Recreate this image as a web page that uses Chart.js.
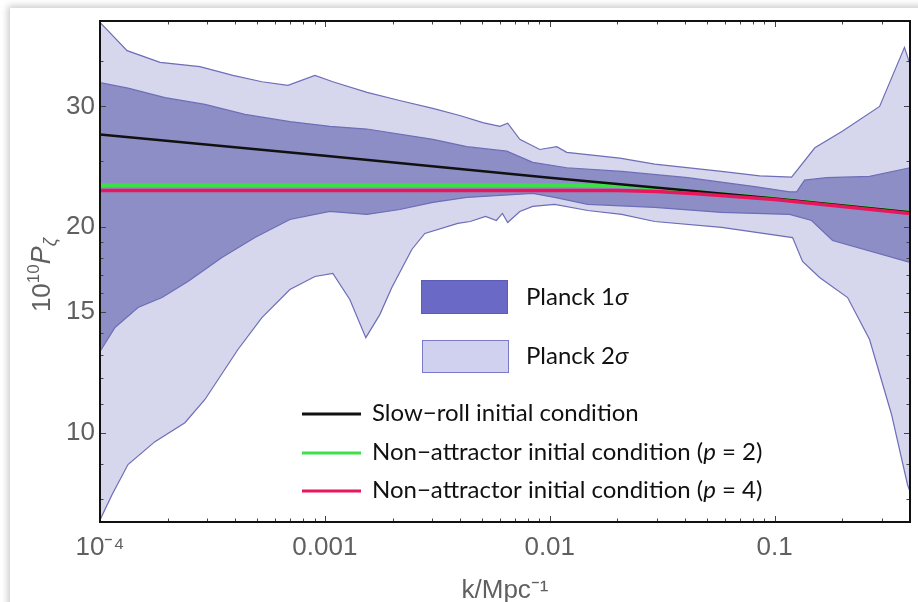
<!DOCTYPE html>
<html>
<head>
<meta charset="utf-8">
<script src="https://cdn.jsdelivr.net/npm/chart.js@4.4.1/dist/chart.umd.min.js"></script>
<style>
  html, body { margin: 0; padding: 0; background: #fff; overflow: hidden; }
  #card { position: absolute; left: 10px; top: 8px; width: 940px; height: 640px; background: #fff;
          box-shadow: -2px -2px 7px rgba(0, 0, 0, 0.22); }
  #wrap { position: absolute; left: 0; top: 0; width: 918px; height: 602px; }
</style>
</head>
<body>
<div id="card"></div>
<div id="wrap"><canvas id="chart"></canvas></div>
<script>
'use strict';

// k in Mpc^-1, values are 10^10 P_zeta
let sigma2UpperK = [1.0e-4, 1.32e-4, 1.85e-4, 2.78e-4, 3.9e-4, 5.25e-4, 6.85e-4, 9.03e-4, 1.085e-3, 1.54e-3,
  2.15e-3, 3.02e-3, 3.98e-3, 5.04e-3, 6.0e-3, 6.5e-3, 7.36e-3, 9.03e-3, 1.074e-2, 1.19e-2,
  2.05e-2, 2.93e-2, 5.81e-2, 8.58e-2, 0.119, 0.151, 0.2, 0.293, 0.378, 0.4];
let sigma2Upper = [39.8, 36.2, 34.8, 34.3, 33.3, 32.6, 32.2, 33.3, 32.6, 31.45,
  30.6, 29.8, 29.1, 28.4, 28.05, 28.35, 26.85, 25.95, 26.2, 25.7,
  25.2, 24.7, 24.1, 23.75, 23.65, 26.1, 27.6, 30.0, 36.6, 34.6];

let sigma2LowerK = [1.0e-4, 1.131e-4, 1.332e-4, 1.755e-4, 2.386e-4, 2.929e-4, 4.106e-4, 5.248e-4, 6.99e-4, 9.03e-4,
  1.085e-3, 1.291e-3, 1.521e-3, 1.755e-3, 1.985e-3, 2.436e-3, 2.783e-3, 3.9e-3, 4.43e-3, 5.18e-3,
  5.79e-3, 6.16e-3, 6.5e-3, 7.36e-3, 8.4e-3, 1.052e-2, 1.476e-2, 2.089e-2, 2.929e-2, 5.81e-2,
  0.1202, 0.1331, 0.1585, 0.2111, 0.2644, 0.3311, 0.39, 0.4];
let sigma2Lower = [7.45, 8.11, 8.98, 9.70, 10.34, 11.18, 13.23, 14.73, 16.19, 16.92,
  17.09, 15.66, 13.77, 14.88, 16.30, 18.53, 19.56, 20.23, 20.36, 20.71,
  20.43, 20.92, 20.29, 21.06, 21.42, 21.57, 21.13, 20.85, 20.36, 19.96,
  19.29, 17.80, 16.86, 15.76, 13.68, 10.63, 8.39, 8.2];

let sigma1UpperK = [1.0e-4, 1.332e-4, 1.945e-4, 2.929e-4, 4.41e-4, 6.99e-4, 1.052e-3, 1.537e-3, 3.02e-3, 4.276e-3,
  6.44e-3, 8.4e-3, 1.19e-2, 2.089e-2, 4.106e-2, 8.15e-2, 0.1166, 0.1253, 0.1359, 0.1703, 0.2644, 0.4];
let sigma1Upper = [32.5, 31.9, 30.9, 30.2, 29.2, 28.5, 28.05, 27.8, 26.85, 26.2,
  25.8, 24.85, 24.4, 24.1, 23.6, 22.9, 22.5, 22.5, 23.4, 23.6, 23.7, 24.4];

let sigma1LowerK = [1.0e-4, 1.166e-4, 1.476e-4, 1.886e-4, 2.461e-4, 3.485e-4, 4.886e-4, 6.99e-4, 1.052e-3, 1.537e-3,
  2.154e-3, 3.02e-3, 4.276e-3, 5.995e-3, 8.4e-3, 1.052e-2, 1.476e-2, 2.929e-2, 5.81e-2, 0.1166,
  0.146, 0.181, 0.4];
let sigma1Lower = [13.14, 14.25, 15.24, 15.76, 16.64, 18.04, 19.29, 20.5, 21.06, 20.85,
  21.2, 21.71, 22.08, 22.23, 22.38, 22.08, 21.57, 21.35, 20.99, 20.85,
  20.43, 19.10, 17.74];

let slowRollK = [1e-4, 1e-3, 1e-2, 0.1, 0.4];
let slowRoll = [27.3, 25.4, 23.6, 22.0, 21.0];

let p2K = [1e-4, 0.012, 0.018, 0.025, 0.1, 0.4];
let p2 = [23.0, 23.0, 22.97, 22.88, 22.0, 21.0];

let p4K = [1e-4, 0.02, 0.03, 0.045, 0.1, 0.4];
let p4 = [22.6, 22.6, 22.52, 22.35, 21.93, 20.92];

let xMajor = [1e-4, 1e-3, 1e-2, 1e-1];
let xTickLabels = ['10⁻⁴', '0.001', '0.01', '0.1'];
let yMajor = [10, 15, 20, 30];
let yTickLabels = ['10', '15', '20', '30'];
let yMinor = [8, 9, 11, 12, 13, 14, 16, 17, 18, 19, 25, 35, 40];
let xMinor = [];
for (let d = 1e-4; d < 0.4; d *= 10) {
  for (let m = 2; m <= 9; m++) {
    if (m * d <= 0.4) xMinor.push(m * d);
  }
}

let darkFill = '#8e8ec6';
let lightFill = '#d6d6ec';
let bandLine = '#6d6db8';
let gray = '#606060';

function pts(ks, vs) {
  return ks.map((k, i) => ({x: k, y: vs[i]}));
}

let frameTicks = {
  id: 'frameTicks',
  afterDatasetsDraw(chart) {
    let ctx = chart.ctx;
    let a = chart.chartArea;
    let x = chart.scales.x;
    let y = chart.scales.y;
    ctx.save();
    ctx.strokeStyle = '#444';
    ctx.lineWidth = 1;
    ctx.beginPath();
    let xt = (v, len) => {
      let px = Math.round(x.getPixelForValue(v)) + 0.5;
      ctx.moveTo(px, a.bottom); ctx.lineTo(px, a.bottom - len);
      ctx.moveTo(px, a.top); ctx.lineTo(px, a.top + len);
    };
    let yt = (v, len) => {
      let py = Math.round(y.getPixelForValue(v)) + 0.5;
      ctx.moveTo(a.left, py); ctx.lineTo(a.left + len, py);
      ctx.moveTo(a.right, py); ctx.lineTo(a.right - len, py);
    };
    xMajor.forEach(v => xt(v, 6));
    xMinor.forEach(v => xt(v, 3.5));
    yMajor.forEach(v => yt(v, 6));
    yMinor.forEach(v => yt(v, 3.5));
    ctx.stroke();
    ctx.strokeStyle = '#111';
    ctx.lineWidth = 2;
    ctx.strokeRect(a.left, a.top, a.right - a.left, a.bottom - a.top);
    ctx.restore();
  }
};

// draws a row of text pieces: [text, font, dy]
function drawPieces(ctx, pieces, x0, y0) {
  let x = x0;
  pieces.forEach(p => {
    ctx.font = p[1];
    ctx.fillText(p[0], x, y0 + (p[2] || 0));
    x += ctx.measureText(p[0]).width;
  });
}

let legendFont = '24px Lato';
let legendItalic = 'italic 24px Lato';

let insideLegend = {
  id: 'insideLegend',
  afterDraw(chart) {
    let ctx = chart.ctx;
    let ds = chart.data.datasets;
    ctx.save();
    ctx.textBaseline = 'middle';
    ctx.fillStyle = '#6a6ac6';
    ctx.strokeStyle = '#5c5cb8';
    ctx.lineWidth = 1;
    ctx.fillRect(421, 280, 86, 33);
    ctx.strokeRect(421.5, 280.5, 86, 33);
    ctx.fillStyle = '#d0d0ef';
    ctx.strokeStyle = '#7a7ac8';
    ctx.fillRect(422, 340, 86, 32);
    ctx.strokeRect(422.5, 340.5, 86, 32);

    ctx.fillStyle = '#111';
    drawPieces(ctx, [['Planck 1', legendFont], ['σ', legendItalic]], 526, 297);
    drawPieces(ctx, [['Planck 2', legendFont], ['σ', legendItalic]], 526, 356);

    let rows = [
      [ds[4], [['Slow−roll initial condition', legendFont]], 413],
      [ds[5], [['Non−attractor initial condition (', legendFont], ['p', legendItalic], [' = 2)', legendFont]], 452],
      [ds[6], [['Non−attractor initial condition (', legendFont], ['p', legendItalic], [' = 4)', legendFont]], 490]
    ];
    rows.forEach(r => {
      ctx.strokeStyle = r[0].borderColor;
      ctx.lineWidth = 3;
      ctx.beginPath();
      ctx.moveTo(302, r[2] + 1);
      ctx.lineTo(361, r[2] + 1);
      ctx.stroke();
      ctx.fillStyle = '#111';
      drawPieces(ctx, r[1], 372, r[2]);
    });

    // y axis title 10^10 P_zeta
    ctx.translate(50, 275);
    ctx.rotate(-Math.PI / 2);
    ctx.fillStyle = gray;
    ctx.textBaseline = 'alphabetic';
    let title = [['10', '26px "Liberation Sans"', 0], ['10', '17px "Liberation Sans"', -11],
      ['P', 'italic 27px "Liberation Sans"', 0], ['ζ', 'italic 18px "Liberation Sans"', 6]];
    let w = 0;
    title.forEach(p => { ctx.font = p[1]; w += ctx.measureText(p[0]).width; });
    drawPieces(ctx, title, -w / 2, 0);
    ctx.restore();
  }
};

Chart.defaults.font.family = '"Liberation Sans", Arial, sans-serif';

new Chart(document.getElementById('chart'), {
  type: 'line',
  data: {
    datasets: [
      {label: 'Planck 2σ upper', data: pts(sigma2UpperK, sigma2Upper), fill: '+1',
        backgroundColor: lightFill, borderColor: bandLine, borderWidth: 1.2, order: 7},
      {label: 'Planck 2σ lower', data: pts(sigma2LowerK, sigma2Lower), fill: false,
        borderColor: bandLine, borderWidth: 1.2, order: 6},
      {label: 'Planck 1σ upper', data: pts(sigma1UpperK, sigma1Upper), fill: '+1',
        backgroundColor: darkFill, borderColor: bandLine, borderWidth: 1.2, order: 5},
      {label: 'Planck 1σ lower', data: pts(sigma1LowerK, sigma1Lower), fill: false,
        borderColor: bandLine, borderWidth: 1.2, order: 4},
      {label: 'Slow-roll initial condition', data: pts(slowRollK, slowRoll),
        borderColor: '#111111', borderWidth: 2.5, order: 2},
      {label: 'Non-attractor initial condition (p = 2)', data: pts(p2K, p2),
        borderColor: '#3ee04a', borderWidth: 3.5, order: 3},
      {label: 'Non-attractor initial condition (p = 4)', data: pts(p4K, p4),
        borderColor: '#e8175d', borderWidth: 3.5, order: 1}
    ]
  },
  options: {
    responsive: true,
    maintainAspectRatio: false,
    animation: false,
    elements: {point: {radius: 0}, line: {tension: 0}},
    layout: {padding: {top: 21, right: 8, left: 0, bottom: 0}},
    plugins: {legend: {display: false}, tooltip: {enabled: false}},
    scales: {
      x: {
        type: 'logarithmic',
        min: 1e-4,
        max: 0.4,
        afterBuildTicks: s => { s.ticks = xMajor.map(v => ({value: v})); },
        afterFit: s => { s.height = 80; },
        grid: {display: false, drawTicks: false},
        border: {display: false},
        ticks: {autoSkip: false, maxRotation: 0, padding: 10, color: gray, font: {size: 26},
          callback: (v, i) => xTickLabels[i]},
        title: {display: true, text: 'k/Mpc⁻¹', color: gray, font: {size: 26}, padding: {top: 2, bottom: -4}}
      },
      y: {
        type: 'logarithmic',
        min: 7.4,
        max: 40,
        afterBuildTicks: s => { s.ticks = yMajor.map(v => ({value: v})); },
        afterFit: s => { s.width = 100; },
        grid: {display: false, drawTicks: false},
        border: {display: false},
        ticks: {padding: 5, color: gray, font: {size: 26}, callback: (v, i) => yTickLabels[i]}
      }
    }
  },
  plugins: [frameTicks, insideLegend]
});
</script>
</body>
</html>
